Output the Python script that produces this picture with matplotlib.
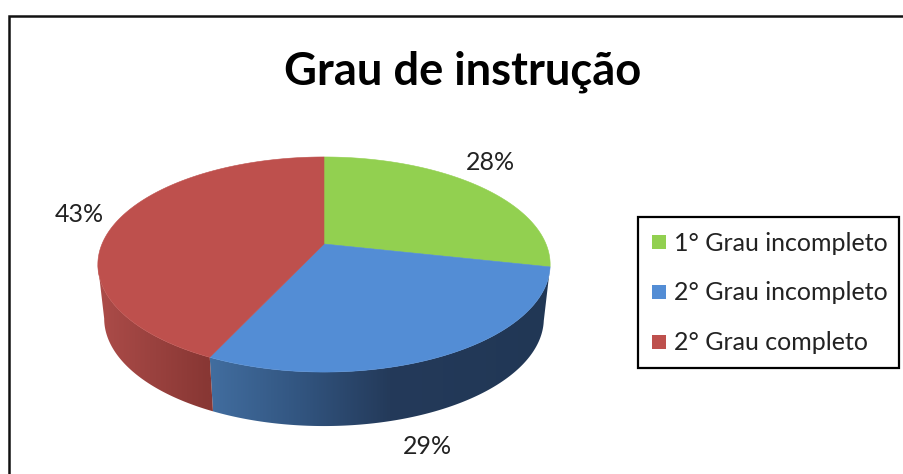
import numpy as np
import matplotlib
matplotlib.use("Agg")
import matplotlib.pyplot as plt
from matplotlib.patches import Polygon, Rectangle

title = "Grau de instrução"
categories = ["1° Grau incompleto", "2° Grau incompleto", "2° Grau completo"]
values = [28.4, 28.6, 43.0]
labels = ["28%", "29%", "43%"]
colors = ["#92D050", "#538DD5", "#BE504D"]

W, H = 904, 474
fig = plt.figure(figsize=(W / 100, H / 100), dpi=100)
ax = fig.add_axes([0, 0, 1, 1])
ax.set_xlim(0, W)
ax.set_ylim(H, 0)
ax.axis("off")
FONT = "Lato"
TXT = "#222222"

# perspective projection of the unit disc
CX, K = 324.0, 222.0
A, B, C = 244.0, -57.1, 0.1907


def project(theta_deg, r=1.0, shrink=1.0, dy=0.0):
    t = np.radians(theta_deg)
    u, v = r * np.sin(t), r * np.cos(t)
    d = 1 + C * v
    return CX + shrink * K * u / d, (A + B * v) / d + dy


def rim(a0, a1, **kw):
    th = np.linspace(a0, a1, 200)
    x, y = project(th, **kw)
    return np.column_stack([x, y])


edges = np.concatenate([[0], np.cumsum(values)]) / np.sum(values) * 360
DEPTH, SHRINK = 54.0, 0.972
LEFT_SILHOUETTE = 259.0

# front walls with horizontal gradient
walls = [
    (edges[1], edges[2], [208, 300, 390, 550],
     [(66, 110, 160), (50, 85, 128), (36, 58, 90), (33, 55, 85)]),
    (edges[2], LEFT_SILHOUETTE, [98, 150, 208],
     [(172, 76, 73), (155, 66, 63), (136, 55, 52)]),
]
GX0, GX1 = 90, 560
for a0, a1, xs, cols in walls:
    top = rim(a0, a1)
    bot = rim(a0, a1, shrink=SHRINK, dy=DEPTH)
    poly = Polygon(np.vstack([top, bot[::-1]]), closed=True, transform=ax.transData,
                   facecolor="none", edgecolor="none")
    ax.add_patch(poly)
    gx = np.arange(GX0, GX1 + 1)
    cols = np.array(cols, float) / 255
    grad = np.stack([np.interp(gx, xs, cols[:, i]) for i in range(3)], axis=-1)[None, :, :]
    im = ax.imshow(grad, extent=[GX0, GX1, 430, 250], aspect="auto", zorder=2,
                   interpolation="bilinear")
    im.set_clip_path(poly)
ax.set_xlim(0, W)
ax.set_ylim(H, 0)

# top surface
cx0, cy0 = project(0.0, r=0.0)
for i, col in enumerate(colors):
    pts = np.vstack([[cx0, cy0], rim(edges[i], edges[i + 1])])
    ax.add_patch(Polygon(pts, closed=True, facecolor=col, edgecolor=col, lw=0.4, zorder=3))

# percentage labels
ax.text(490, 162, labels[0], fontsize=18, family=FONT, color=TXT, ha="center", va="center")
ax.text(427, 447, labels[1], fontsize=18, family=FONT, color=TXT, ha="center", va="center")
ax.text(79, 215, labels[2], fontsize=18, family=FONT, color=TXT, ha="center", va="center")

# title
ax.text(463, 72, title, fontsize=32.7, family=FONT, fontweight="bold", color="black",
        ha="center", va="center")

# outer frame: left and top only visible
ax.plot([9.5, 9.5, W], [H, 15.5, 15.5], color="#111111", lw=1.8, solid_joinstyle="miter", zorder=5)

# legend
ax.add_patch(Rectangle((638.5, 216.5), 260.5, 151, facecolor="white", edgecolor="black", lw=1.6, zorder=4))
for (name, col, y) in zip(categories, colors, [242, 292, 342]):
    ax.add_patch(Rectangle((652.5, y - 7), 14, 14, facecolor=col, edgecolor="none", zorder=5))
    ax.text(674, y + 1, name, fontsize=18, family=FONT, color=TXT, ha="left", va="center", zorder=5)

fig.savefig("out.png", dpi=100)
